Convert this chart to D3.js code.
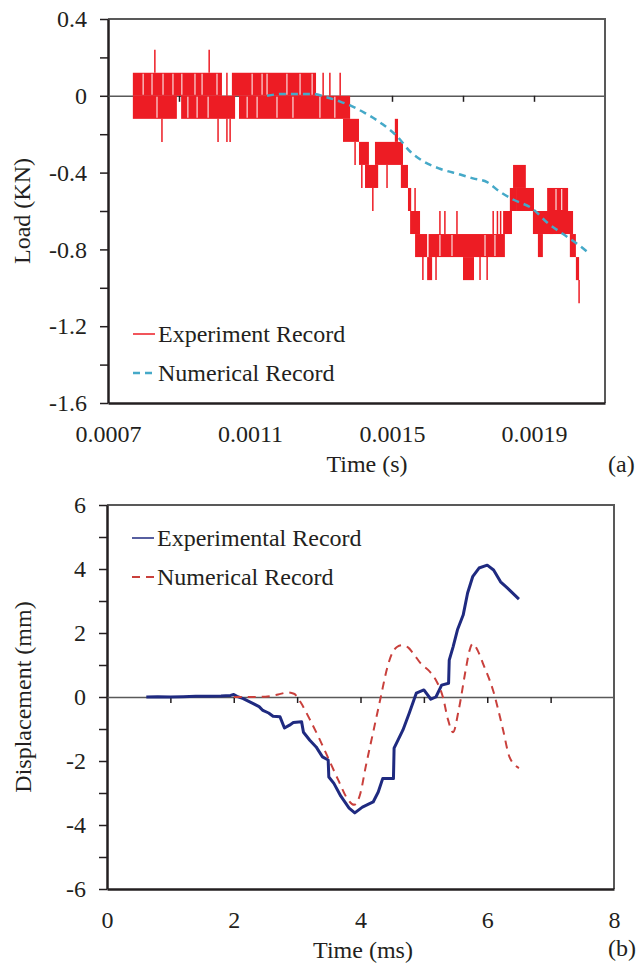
<!DOCTYPE html>
<html>
<head>
<meta charset="utf-8">
<script src="https://cdn.jsdelivr.net/npm/d3@7"></script>
<style>
  html, body { margin: 0; padding: 0; background: #fff; }
  svg text { font-family: "Liberation Serif", "Times New Roman", serif; fill: #231f20; }
</style>
</head>
<body>
<svg id="fig" width="636" height="968"></svg>
<script>
// ---------- (a) Load vs time ----------
const loadTickLabels = [0.4, 0, -0.4, -0.8, -1.2, -1.6];
const timeTickLabels = [0.0007, 0.0011, 0.0015, 0.0019];

// Experiment record: dense quantised signal, stored as occupied level bands [t0, t1, low, high]
const expBands = [
  [0.000770, 0.001021, 0, 0.12],
  [0.001049, 0.001286, 0, 0.12],
  [0.000770, 0.000894, -0.12, 0],
  [0.000906, 0.001058, -0.12, 0],
  [0.001069, 0.001382, -0.12, 0],
  [0.001362, 0.001407, -0.24, -0.12],
  [0.001407, 0.001435, -0.36, -0.24],
  [0.001424, 0.001461, -0.48, -0.36],
  [0.001452, 0.001531, -0.36, -0.24],
  [0.001508, 0.001517, -0.24, -0.12],
  [0.001525, 0.001545, -0.48, -0.36],
  [0.001545, 0.001554, -0.60, -0.48],
  [0.001551, 0.001579, -0.72, -0.60],
  [0.001565, 0.001599, -0.84, -0.72],
  [0.001603, 0.001818, -0.84, -0.72],
  [0.001599, 0.001613, -0.96, -0.84],
  [0.001700, 0.001731, -0.96, -0.84],
  [0.001813, 0.001838, -0.72, -0.60],
  [0.001832, 0.001852, -0.60, -0.48],
  [0.001841, 0.001877, -0.48, -0.36],
  [0.001852, 0.001900, -0.60, -0.48],
  [0.001897, 0.001954, -0.72, -0.60],
  [0.001911, 0.001925, -0.84, -0.72],
  [0.001937, 0.001996, -0.60, -0.48],
  [0.001945, 0.002010, -0.72, -0.60],
  [0.002001, 0.002018, -0.84, -0.72],
  [0.002018, 0.002027, -0.96, -0.84]
];
// single-sample dropouts inside a band [t, low, high]
const expGaps = [
  [0.000799, 0, 0.12], [0.000824, 0, 0.12], [0.000855, 0, 0.12], [0.000883, 0, 0.12],
  [0.000908, 0, 0.12], [0.000945, 0, 0.12], [0.000965, 0, 0.12], [0.001007, 0, 0.12],
  [0.001106, 0, 0.12], [0.001134, 0, 0.12], [0.001148, 0, 0.12], [0.001204, 0, 0.12],
  [0.001241, 0, 0.12], [0.001275, 0, 0.12],
  [0.000838, -0.12, 0], [0.000925, -0.12, 0], [0.000951, -0.12, 0], [0.000982, -0.12, 0],
  [0.001092, -0.12, 0], [0.001120, -0.12, 0], [0.001176, -0.12, 0], [0.001221, -0.12, 0],
  [0.001297, -0.12, 0], [0.001339, -0.12, 0],
  [0.001635, -0.84, -0.72], [0.001669, -0.84, -0.72], [0.001762, -0.84, -0.72],
  [0.001790, -0.84, -0.72], [0.001962, -0.60, -0.48], [0.001978, -0.60, -0.48]
];
// isolated excursions of the experiment record [t, from, to]
const expSpikes = [
  [0.000832, 0.12, 0.24], [0.000985, 0.12, 0.24],
  [0.000852, -0.12, -0.24], [0.001010, -0.12, -0.24],
  [0.001035, -0.12, -0.24], [0.001044, -0.12, -0.24],
  [0.001035, 0, 0.12],
  [0.001306, 0, 0.12], [0.001325, 0, 0.12], [0.001354, 0, 0.12],
  [0.001396, -0.24, -0.36], [0.001415, -0.36, -0.48],
  [0.001446, -0.48, -0.60], [0.001486, -0.36, -0.48],
  [0.001565, -0.48, -0.60],
  [0.001587, -0.84, -0.96], [0.001624, -0.84, -0.96],
  [0.001635, -0.72, -0.60], [0.001649, -0.72, -0.60], [0.001683, -0.72, -0.60],
  [0.001748, -0.84, -0.96], [0.001768, -0.84, -0.96],
  [0.001785, -0.72, -0.60], [0.001797, -0.72, -0.60], [0.001806, -0.72, -0.60],
  [0.002027, -0.96, -1.08]
];
// Numerical record (time s, load KN)
const numTime = [0.001148, 0.001193, 0.001232, 0.001275, 0.001311, 0.001354, 0.001382, 0.001424,
  0.001475, 0.001514, 0.001551, 0.001587, 0.001635, 0.001692, 0.001728, 0.001768, 0.001804,
  0.001841, 0.001897, 0.001937, 0.001982, 0.002021, 0.002055];
const numLoad = [0.0, 0.01, 0.01, 0.01, -0.005, -0.03, -0.05, -0.09,
  -0.15, -0.21, -0.29, -0.34, -0.38, -0.41, -0.43, -0.45, -0.50,
  -0.54, -0.59, -0.66, -0.72, -0.77, -0.82];

// ---------- (b) Displacement vs time ----------
const dispTickLabels = [6, 4, 2, 0, -2, -4, -6];
const msTickLabels = [0, 2, 4, 6, 8];
const expMs = [0.62, 0.8, 1.0, 1.2, 1.4, 1.6, 1.8, 1.95, 2.0, 2.05, 2.15, 2.3, 2.4, 2.46, 2.55, 2.62,
  2.73, 2.8, 2.88, 2.94, 3.07, 3.1, 3.2, 3.3, 3.4, 3.49, 3.5, 3.58, 3.69, 3.82, 3.91, 4.03, 4.2,
  4.28, 4.35, 4.52, 4.53, 4.67, 4.77, 4.88, 5.0, 5.11, 5.19, 5.28, 5.39, 5.4, 5.46, 5.53, 5.62,
  5.69, 5.77, 5.87, 6.0, 6.1, 6.21, 6.32, 6.5];
const expDisp = [0, 0.01, 0.0, 0.01, 0.02, 0.02, 0.03, 0.05, 0.08, 0.02, -0.05, -0.2, -0.3, -0.42, -0.5, -0.6,
  -0.62, -0.97, -0.88, -0.8, -0.77, -1.1, -1.35, -1.56, -1.87, -1.97, -2.5, -2.7, -3.1, -3.47, -3.62, -3.44, -3.28,
  -2.97, -2.55, -2.55, -1.6, -1.03, -0.5, 0.12, 0.22, -0.07, 0.0, 0.37, 0.43, 1.15, 1.56, 2.1, 2.56,
  3.25, 3.76, 4.03, 4.12, 3.97, 3.6, 3.4, 3.06];
const numMs = [2.0, 2.3, 2.5, 2.7, 2.85, 2.95, 3.05, 3.2, 3.35, 3.5, 3.65, 3.8, 3.9, 4.0, 4.08, 4.2,
  4.32, 4.42, 4.5, 4.58, 4.65, 4.75, 4.83, 4.95, 5.1, 5.19, 5.3, 5.38, 5.46, 5.55, 5.66, 5.72,
  5.77, 5.85, 5.93, 6.09, 6.25, 6.35, 6.5];
const numDisp = [0, 0, 0.01, 0.08, 0.14, 0.1, -0.15, -0.7, -1.3, -1.95, -2.6, -3.2, -3.37, -3.0, -2.2, -1.1,
  0, 0.9, 1.37, 1.57, 1.62, 1.55, 1.37, 1.05, 0.78, 0.53, 0, -0.7, -1.1, -0.4, 0.85, 1.45,
  1.66, 1.45, 1.06, 0.22, -1.03, -1.87, -2.22];

const svg = d3.select("#fig");
const FS = 24;
const fmt = v => {
  const r = Math.round(v * 10000) / 10000;
  return (r === 0 ? "0" : String(r)).replace("\u2212", "-");
};

function frame(g, x, y, opt) {
  const [x0, x1] = x.range();
  const [y0, y1] = y.range();   // y0 bottom, y1 top
  // top and right borders
  g.append("path")
    .attr("d", `M${x0},${y1}H${x1}V${y0}`)
    .attr("fill", "none").attr("stroke", "#595959").attr("stroke-width", 2);

  // left axis with minor ticks; labels only on majors
  const yAxis = d3.axisLeft(y).tickValues(opt.yTicks).tickSize(8).tickSizeOuter(0)
    .tickFormat(d => opt.yLabels.some(l => Math.abs(l - d) < 1e-9) ? fmt(d) : "");
  const ya = g.append("g").attr("transform", `translate(${x0},0)`).call(yAxis);
  ya.select(".domain").attr("stroke", "#231f20").attr("stroke-width", 2.5);
  ya.selectAll(".tick line").attr("stroke", "#231f20").attr("stroke-width", 1.5);
  ya.selectAll(".tick text").attr("x", -21).attr("font-size", FS)
    .style("font-family", "Liberation Serif").attr("fill", "#231f20");

  // bottom axis line and labels
  const xAxis = d3.axisBottom(x).tickValues(opt.xLabels).tickSize(0).tickSizeOuter(0).tickFormat(fmt);
  const xa = g.append("g").attr("transform", `translate(0,${y0})`).call(xAxis);
  xa.select(".domain").attr("stroke", "#231f20").attr("stroke-width", 2.5);
  xa.selectAll(".tick text").attr("y", opt.xLabelDy).attr("dy", 0).attr("font-size", FS)
    .style("font-family", "Liberation Serif").attr("fill", "#231f20");

  // zero line carrying the time ticks
  const zAxis = d3.axisBottom(x).tickValues(opt.zeroTicks).tickSize(6).tickSizeOuter(0).tickFormat("");
  const za = g.append("g").attr("transform", `translate(0,${y(0)})`).call(zAxis);
  za.select(".domain").attr("stroke", "#595959").attr("stroke-width", 1.5);
  za.selectAll(".tick line").attr("stroke", "#231f20").attr("stroke-width", 1.5);
}

function legendEntry(g, x, y, label, stroke, dash, width) {
  g.append("line").attr("x1", x).attr("x2", x + 22).attr("y1", y).attr("y2", y)
    .attr("stroke", stroke).attr("stroke-width", width).attr("stroke-dasharray", dash);
  g.append("text").attr("x", x + 25).attr("y", y).attr("dy", "0.33em")
    .attr("font-size", FS).text(label);
}

// ===== Panel (a) =====
const xA = d3.scaleLinear().domain([0.0007, 0.0021]).range([108, 605]);
const yA = d3.scaleLinear().domain([-1.6, 0.4]).range([403, 19]);
const gA = svg.append("g");

frame(gA, xA, yA, {
  yTicks: d3.range(-8, 3).map(i => i * 0.2),
  yLabels: loadTickLabels,
  xLabels: timeTickLabels,
  xLabelDy: 39,
  zeroTicks: d3.range(1, 7).map(i => 0.0007 + i * 0.0002)
});

const red = "#ed1c24";
gA.append("g").selectAll("rect").data(expBands).join("rect")
  .attr("x", d => xA(d[0])).attr("width", d => xA(d[1]) - xA(d[0]))
  .attr("y", d => yA(d[3])).attr("height", d => yA(d[2]) - yA(d[3]))
  .attr("fill", red);
gA.append("g").selectAll("line").data(expGaps).join("line")
  .attr("x1", d => xA(d[0])).attr("x2", d => xA(d[0]))
  .attr("y1", d => yA(d[1]) - 1).attr("y2", d => yA(d[2]) + 1)
  .attr("stroke", "#fbdcdc").attr("stroke-width", 1.2);
gA.append("g").selectAll("line").data(expSpikes).join("line")
  .attr("x1", d => xA(d[0])).attr("x2", d => xA(d[0]))
  .attr("y1", d => yA(d[1])).attr("y2", d => yA(d[2]))
  .attr("stroke", red).attr("stroke-width", 1.5);

const numA = numTime.map((t, i) => [t, numLoad[i]]);
gA.append("path").datum(numA)
  .attr("d", d3.line().x(d => xA(d[0])).y(d => yA(d[1])).curve(d3.curveMonotoneX))
  .attr("fill", "none").attr("stroke", "#45a9c8").attr("stroke-width", 2.5)
  .attr("stroke-dasharray", "7,5");

legendEntry(gA, 133, 334, "Experiment Record", red, null, 1.5);
legendEntry(gA, 133, 373, "Numerical Record", "#45a9c8", "7,5", 2.5);

gA.append("text").attr("x", 367).attr("y", 472).attr("text-anchor", "middle")
  .attr("font-size", FS).text("Time (s)");
gA.append("text").attr("transform", `translate(30,211) rotate(-90)`).attr("text-anchor", "middle")
  .attr("font-size", FS).text("Load (KN)");
gA.append("text").attr("x", 608).attr("y", 472).attr("font-size", FS).text("(a)");

// ===== Panel (b) =====
const xB = d3.scaleLinear().domain([0, 8]).range([107, 614]);
const yB = d3.scaleLinear().domain([-6, 6]).range([889, 505]);
const gB = svg.append("g");

frame(gB, xB, yB, {
  yTicks: d3.range(-6, 7),
  yLabels: dispTickLabels,
  xLabels: msTickLabels,
  xLabelDy: 39,
  zeroTicks: d3.range(1, 8)
});

const expB = expMs.map((t, i) => [t, expDisp[i]]);
gB.append("path").datum(expB)
  .attr("d", d3.line().x(d => xB(d[0])).y(d => yB(d[1])))
  .attr("fill", "none").attr("stroke", "#1f2a80").attr("stroke-width", 3)
  .attr("stroke-linejoin", "round");

const numB = numMs.map((t, i) => [t, numDisp[i]]);
gB.append("path").datum(numB)
  .attr("d", d3.line().x(d => xB(d[0])).y(d => yB(d[1])).curve(d3.curveMonotoneX))
  .attr("fill", "none").attr("stroke", "#c9403c").attr("stroke-width", 2)
  .attr("stroke-dasharray", "8,6");

legendEntry(gB, 132, 538, "Experimental Record", "#1f2a80", null, 1.5);
legendEntry(gB, 132, 577, "Numerical Record", "#c9403c", "8,6", 2);

gB.append("text").attr("x", 363).attr("y", 958).attr("text-anchor", "middle")
  .attr("font-size", FS).text("Time (ms)");
gB.append("text").attr("transform", `translate(31,697) rotate(-90)`).attr("text-anchor", "middle")
  .attr("font-size", FS).text("Displacement (mm)");
gB.append("text").attr("x", 608).attr("y", 956).attr("font-size", FS).text("(b)");
</script>
</body>
</html>
